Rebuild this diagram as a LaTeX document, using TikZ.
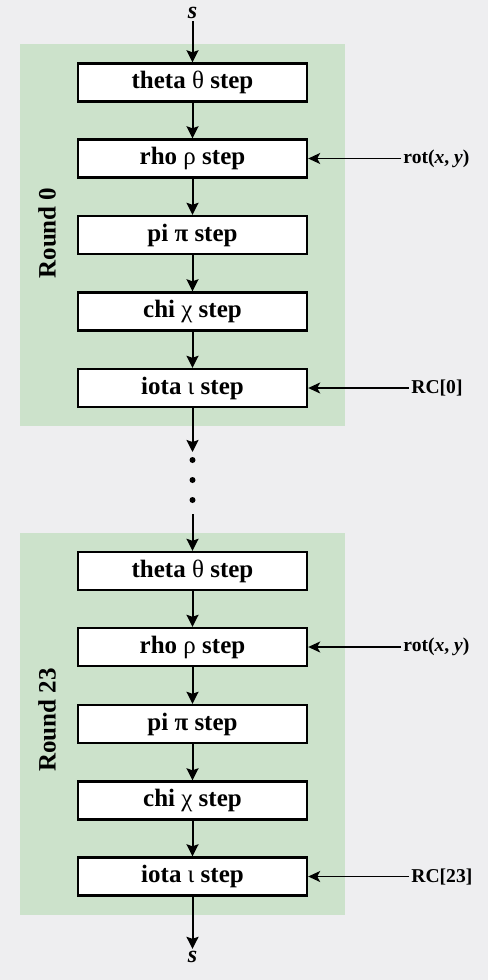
\documentclass[tikz,border=0pt]{standalone}
\usepackage{fontspec}
\setmainfont{Liberation Serif}
\usetikzlibrary{arrows.meta}

\definecolor{paper}{RGB}{238,238,240}
\definecolor{roundgreen}{RGB}{204,226,203}
\newcommand{\gk}[1]{{\mdseries #1}}
\tikzset{
	stepbox/.style={draw, line width=1.2pt, fill=white, inner sep=0pt,
		minimum width=114.5pt, minimum height=19pt,
		font=\fontsize{12.5}{14}\selectfont\bfseries},
	flow/.style={line width=1pt, -{Stealth[length=6pt, width=6pt, inset=1pt]}},
	feed/.style={line width=0.7pt, -{Stealth[length=6pt, width=5.5pt, inset=1.5pt]}},
	keylabel/.style={anchor=west, inner sep=1pt,
		font=\fontsize{9.8}{11}\selectfont\bfseries},
	roundlabel/.style={rotate=90, inner sep=0pt,
		font=\fontsize{12.5}{14}\selectfont\bfseries},
	slabel/.style={inner sep=1pt, font=\fontsize{12}{14}\selectfont\bfseries\itshape}
}

\begin{document}
\begin{tikzpicture}[x=0.5pt, y=-0.5pt]
	\fill[paper] (0,0) rectangle (488,980);
	\fill[roundgreen] (20,44) rectangle (345,426);
	\fill[roundgreen] (20,533) rectangle (345,915);

	% round 0
	\node[slabel] (sin) at (192.5,13) {s};
	\node[stepbox] (theta0) at (192.5,82.5) {theta \gk{θ} step};
	\node[stepbox] (rho0) at (192.5,158.5) {rho \gk{ρ} step};
	\node[stepbox] (pi0) at (192.5,235) {pi π step};
	\node[stepbox] (chi0) at (192.5,311.5) {chi \gk{χ} step};
	\node[stepbox] (iota0) at (192.5,388) {iota \gk{ι} step};
	\node[roundlabel] (round0) at (47,233) {Round 0};
	\node[keylabel] (rot0) at (401,158.5) {rot(\textit{x}, \textit{y})};
	\node[keylabel] (rc0) at (409,388) {RC[0]};

	% dots between the rounds
	\coordinate (gapin) at (192.5,452);
	\coordinate (gapout) at (192.5,514);
	\fill (192.5,460) circle (1.5pt);
	\fill (192.5,480) circle (1.5pt);
	\fill (192.5,500) circle (1.5pt);

	% round 23
	\node[stepbox] (theta23) at (192.5,571) {theta \gk{θ} step};
	\node[stepbox] (rho23) at (192.5,647) {rho \gk{ρ} step};
	\node[stepbox] (pi23) at (192.5,724) {pi π step};
	\node[stepbox] (chi23) at (192.5,800.5) {chi \gk{χ} step};
	\node[stepbox] (iota23) at (192.5,876.5) {iota \gk{ι} step};
	\node[roundlabel] (round23) at (47,720) {Round 23};
	\node[keylabel] (rot23) at (401,647) {rot(\textit{x}, \textit{y})};
	\node[keylabel] (rc23) at (409,876.5) {RC[23]};
	\node[slabel] (sout) at (192.5,957) {s};

	\draw[flow] (sin) -- (theta0);
	\draw[flow] (theta0) -- (rho0);
	\draw[flow] (rho0) -- (pi0);
	\draw[flow] (pi0) -- (chi0);
	\draw[flow] (chi0) -- (iota0);
	\draw[flow] (iota0) -- (gapin);
	\draw[flow] (gapout) -- (theta23);
	\draw[flow] (theta23) -- (rho23);
	\draw[flow] (rho23) -- (pi23);
	\draw[flow] (pi23) -- (chi23);
	\draw[flow] (chi23) -- (iota23);
	\draw[flow] (iota23) -- (sout);

	\draw[feed] (rot0) -- (rho0);
	\draw[feed] (rc0) -- (iota0);
	\draw[feed] (rot23) -- (rho23);
	\draw[feed] (rc23) -- (iota23);
\end{tikzpicture}
\end{document}
